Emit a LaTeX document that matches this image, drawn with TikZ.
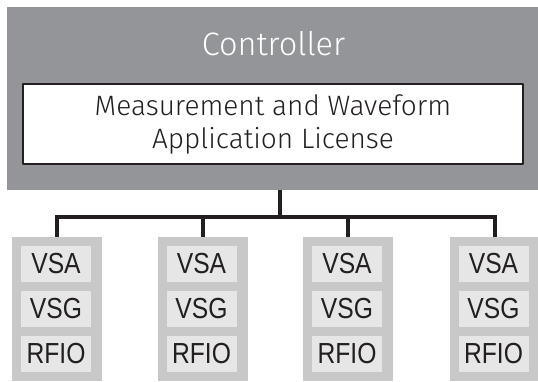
\documentclass[tikz,border=0pt]{standalone}
\usepackage{fontspec}
\setmainfont{Liberation Sans}
\newfontfamily\lightfont{Fira Sans Light}
\newfontfamily\boxfont{Liberation Sans}[FakeStretch=0.85]
\definecolor{ctrlgray}{HTML}{939598}
\definecolor{instgray}{HTML}{C8C8C9}
\definecolor{modgray}{HTML}{E6E6E6}
\definecolor{linegray}{HTML}{231F20}
\tikzset{
  inst/.style={fill=instgray, minimum width=90pt, minimum height=144pt, inner sep=0pt},
  mod/.style={fill=modgray, minimum width=70pt, minimum height=36pt, inner sep=0pt,
    text=linegray, font=\boxfont\fontsize{29}{29}\selectfont},
  bus/.style={draw=linegray, line width=4pt, line join=miter}
}
\begin{document}
\begin{tikzpicture}[x=1pt, y=-1pt, line join=round, line cap=butt]
			\useasboundingbox (0,0) rectangle (538,381);
			\path
			(272.5,98.5) node[fill=ctrlgray, minimum width=531pt, minimum height=183pt, inner sep=0pt] (ctrl) {}
			(273.5,44) node[text=white, font=\lightfont\fontsize{32.5}{32.5}\selectfont] (title) {Controller}
			(273,124) node[draw=linegray, line width=2pt, fill=white, minimum width=500pt, minimum height=80pt,
				align=center, text=linegray, font=\lightfont\fontsize{28}{33}\selectfont] (lic) {Measurement and Waveform\\Application License}
			(279.5,217) coordinate (hub);
			
			\foreach \i/\x in {1/57, 2/202.5, 3/348, 4/494.5}
			{
			\node[inst] (box\i) at (\x,309) {};
			\node[mod] (vsa\i) at ([shift={(-1,-45)}]box\i.center) {VSA};
			\node[mod] (vsg\i) at ([shift={(-1,0)}]box\i.center) {VSG};
			\node[mod] (rfio\i) at ([shift={(-1,45)}]box\i.center) {RFIO};
			}
			
			\draw[bus] (ctrl.south -| hub) -- (hub);
			\draw[bus] (box1.north) |- (hub) -| (box4.north);
			\draw[bus] (box2.north) -- (box2.north |- hub);
			\draw[bus] (box3.north) -- (box3.north |- hub);
		\end{tikzpicture}
\end{document}
